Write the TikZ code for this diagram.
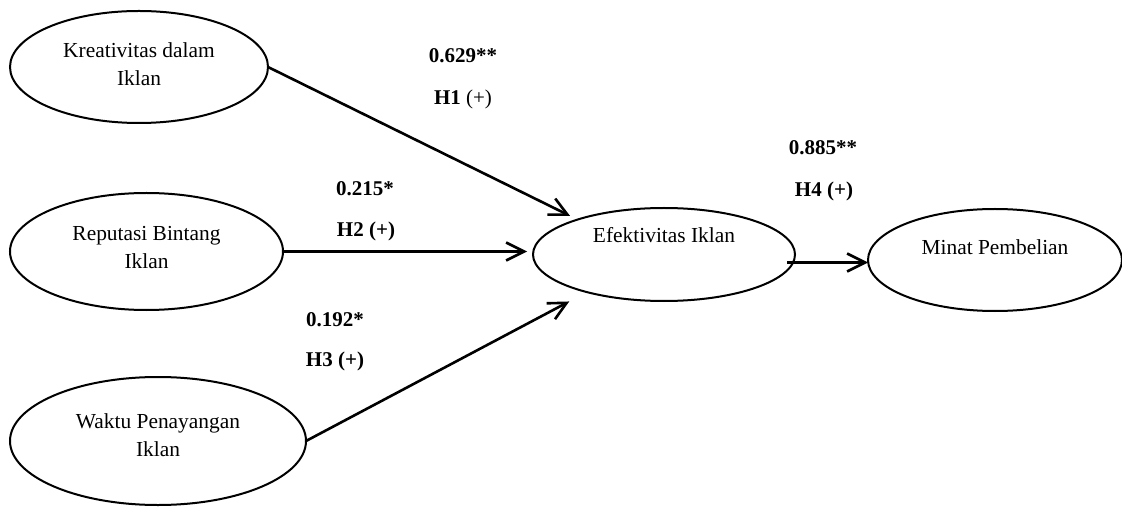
\documentclass[tikz,border=0pt]{standalone}
\usepackage{fontspec}
\setmainfont{Liberation Serif}
\usetikzlibrary{arrows.meta,shapes.geometric}
\begin{document}
\begin{tikzpicture}[x=0.5pt,y=-0.5pt,
  var/.style={draw, line width=1pt, ellipse, inner sep=0pt, outer sep=0pt,
    font=\fontsize{10.7}{14}\selectfont},
  coef/.style={font=\fontsize{10.5}{13}\selectfont\bfseries, anchor=base, inner sep=0pt},
  hyp/.style={font=\fontsize{10.5}{13}\selectfont, anchor=base, inner sep=0pt},
  arr/.style={line width=1.3pt, -{Straight Barb[length=9pt,width=9pt,line width=1.3pt]}}]
\useasboundingbox (0,0) rectangle (1122,507);

% latent variables
\node[var, minimum width=129pt, minimum height=56pt, text height=4.8pt, text depth=0pt]
  (kre) at (139,67) {\begin{tabular}{@{}c@{}}Kreativitas dalam\\Iklan\end{tabular}};
\node[var, minimum width=136.5pt, minimum height=58.5pt, text height=3pt, text depth=0pt]
  (rep) at (146.5,251.5) {\begin{tabular}{@{}c@{}}Reputasi Bintang\\Iklan\end{tabular}};
\node[var, minimum width=148pt, minimum height=64pt, text height=1.8pt, text depth=0pt]
  (wak) at (158,441) {\begin{tabular}{@{}c@{}}Waktu Penayangan\\Iklan\end{tabular}};
\node[var, minimum width=131pt, minimum height=46.5pt, text height=0pt, text depth=12.2pt]
  (efk) at (664,254.5) {Efektivitas Iklan};
\node[var, minimum width=127pt, minimum height=51pt, text height=0pt, text depth=5.2pt]
  (min) at (995,260) {Minat Pembelian};

% paths
\draw[arr, shorten >=4.2pt] (kre.east) -- (efk.158);
\draw[arr, shorten >=3pt] (rep.east) -- (rep.east -| efk.west);
\draw[arr, shorten >=10pt] (wak.east) -- (efk.206);
\coordinate (e4) at ([shift={(-4pt,-4pt)}]efk.east);
\draw[arr] (e4) -- (e4 -| min.west);

% coefficients and hypotheses
\node[coef] (c1) at (463,63) {0.629**};
\node[hyp]  (h1) at (463,105) {\textbf{H1} (+)};
\node[coef] (c2) at (365,196) {0.215*};
\node[coef] (h2) at (366,237) {H2 (+)};
\node[coef] (c3) at (335,326) {0.192*};
\node[coef] (h3) at (335,366) {H3 (+)};
\node[coef] (c4) at (823,155) {0.885**};
\node[coef] (h4) at (824,197) {H4 (+)};
\end{tikzpicture}
\end{document}
